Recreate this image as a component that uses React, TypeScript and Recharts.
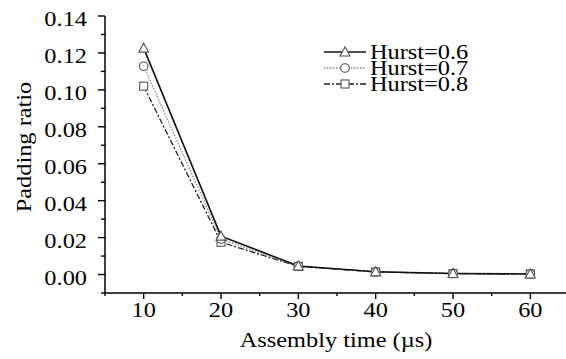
import { LineChart, Line, XAxis, YAxis, Legend } from "recharts";

// values
const assemblyTimes = [10, 20, 30, 40, 50, 60];
const hurst06 = [0.1226, 0.0208, 0.0046, 0.0015, 0.0006, 0.0003];
const hurst07 = [0.1128, 0.0192, 0.0045, 0.0014, 0.0006, 0.0003];
const hurst08 = [0.102, 0.0175, 0.0044, 0.0014, 0.0005, 0.0003];
const seriesKeys = ["h6", "h7", "h8"];
const seriesNames = ["Hurst=0.6", "Hurst=0.7", "Hurst=0.8"];
const xTicks = [5, 10, 15, 20, 25, 30, 35, 40, 45, 50, 55, 60, 65];
const yTicks = [-0.01, 0, 0.01, 0.02, 0.03, 0.04, 0.05, 0.06, 0.07, 0.08, 0.09, 0.1, 0.11, 0.12, 0.13, 0.14];

const data = assemblyTimes.map((t, i) => ({ t, h6: hurst06[i], h7: hurst07[i], h8: hurst08[i] }));

const FONT = "'Liberation Serif', 'Times New Roman', serif";
const SX = 1.16; // glyphs in the figure are a bit wider than Times

const STYLE: Record<string, { stroke: string; width: number; dash?: string; shape: string }> = {
  h6: { stroke: "#111", width: 1.6, shape: "triangle" },
  h7: { stroke: "#8a8a8a", width: 1.3, dash: "1.5 1.5", shape: "circle" },
  h8: { stroke: "#222", width: 1.3, dash: "6 2 2 2", shape: "square" },
};

function Marker({ cx, cy, shape }: { cx: number; cy: number; shape: string }) {
  const st = { fill: "#fff", stroke: "#555", strokeWidth: 1.1 };
  if (shape === "triangle")
    return <polygon points={`${cx},${cy - 5} ${cx - 5},${cy + 4} ${cx + 5},${cy + 4}`} {...st} />;
  if (shape === "circle") return <circle cx={cx} cy={cy} r={4.3} {...st} />;
  return <rect x={cx - 4} y={cy - 4} width={8} height={8} {...st} />;
}

function XTick(props: any) {
  const { x, y, payload } = props;
  const v = payload.value;
  const major = v % 10 === 0;
  return (
    <g>
      <line x1={x} x2={x} y1={y} y2={y + (major ? 6 : 3)} stroke="#000" strokeWidth={1.4} />
      {major && (
        <text transform={`translate(${x},${y + 24}) scale(${SX},1)`} textAnchor="middle"
              fontSize={21} fontFamily={FONT} fill="#000">{v}</text>
      )}
    </g>
  );
}

function YTick(props: any) {
  const { x, y, payload } = props;
  const v = payload.value;
  const k = Math.round(v * 100);
  const major = k >= 0 && k % 2 === 0;
  return (
    <g>
      <line x1={x - (major ? 7 : 4)} x2={x} y1={y} y2={y} stroke="#000" strokeWidth={1.4} />
      {major && (
        <text transform={`translate(${x - 18},${y + 10}) scale(${SX},1)`} textAnchor="end"
              fontSize={21} fontFamily={FONT} fill="#000">{v.toFixed(2)}</text>
      )}
    </g>
  );
}

function LegendBox(props: any) {
  const items = [...(props.payload || [])].sort(
    (a: any, b: any) => seriesKeys.indexOf(a.dataKey) - seriesKeys.indexOf(b.dataKey)
  );
  return (
    <svg width={200} height={60} style={{ display: "block", overflow: "visible" }}>
      {items.map((it: any, i: number) => {
        const s = STYLE[it.dataKey];
        const y = 12 + i * 16;
        return (
          <g key={it.dataKey}>
            <line x1={6} x2={48} y1={y} y2={y} stroke={s.stroke} strokeWidth={s.width} strokeDasharray={s.dash} />
            <Marker cx={27} cy={y} shape={s.shape} />
            <text transform={`translate(52,${y + 7}) scale(${SX},1)`} fontSize={21} fontFamily={FONT} fill="#000">
              {it.value}
            </text>
          </g>
        );
      })}
    </svg>
  );
}

export default function App() {
  return (
    <div style={{ position: "absolute", left: 0, top: 0, background: "#fff" }}>
      <LineChart width={569} height={359} data={data} margin={{ top: 16, right: 0, bottom: 0, left: 0 }}>
        <XAxis
          dataKey="t" type="number" domain={[5, 65]} ticks={xTicks} interval={0}
          tickSize={0} tickMargin={0} tick={<XTick />} height={66}
          axisLine={{ stroke: "#000", strokeWidth: 1.5 }}
          label={{
            content: () => (
              <text transform={`translate(336,347) scale(${SX},1)`} textAnchor="middle"
                    fontSize={21} fontFamily={FONT} fill="#000">Assembly time (µs)</text>
            ),
          }}
        />
        <YAxis
          type="number" domain={[-0.01, 0.14]} ticks={yTicks} interval={0}
          tickSize={0} tickMargin={0} tick={<YTick />} width={105}
          axisLine={{ stroke: "#000", strokeWidth: 1.5 }}
          label={{
            content: () => (
              <text transform={`translate(31,147) rotate(-90) scale(${SX},1)`} textAnchor="middle"
                    fontSize={21} fontFamily={FONT} fill="#000">Padding ratio</text>
            ),
          }}
        />
        <Legend
          layout="vertical" align="center" verticalAlign="middle"
          wrapperStyle={{ left: 318, top: 40, width: 200 }}
          content={<LegendBox />}
        />
        {["h8", "h7", "h6"].map((key) => {
          const s = STYLE[key];
          return (
            <Line
              key={key} dataKey={key} name={seriesNames[seriesKeys.indexOf(key)]}
              stroke={s.stroke} strokeWidth={s.width} strokeDasharray={s.dash}
              isAnimationActive={false}
              dot={(p: any) => <Marker key={`${key}-${p.index}`} cx={p.cx} cy={p.cy} shape={s.shape} />}
              activeDot={false}
            />
          );
        })}
      </LineChart>
    </div>
  );
}
